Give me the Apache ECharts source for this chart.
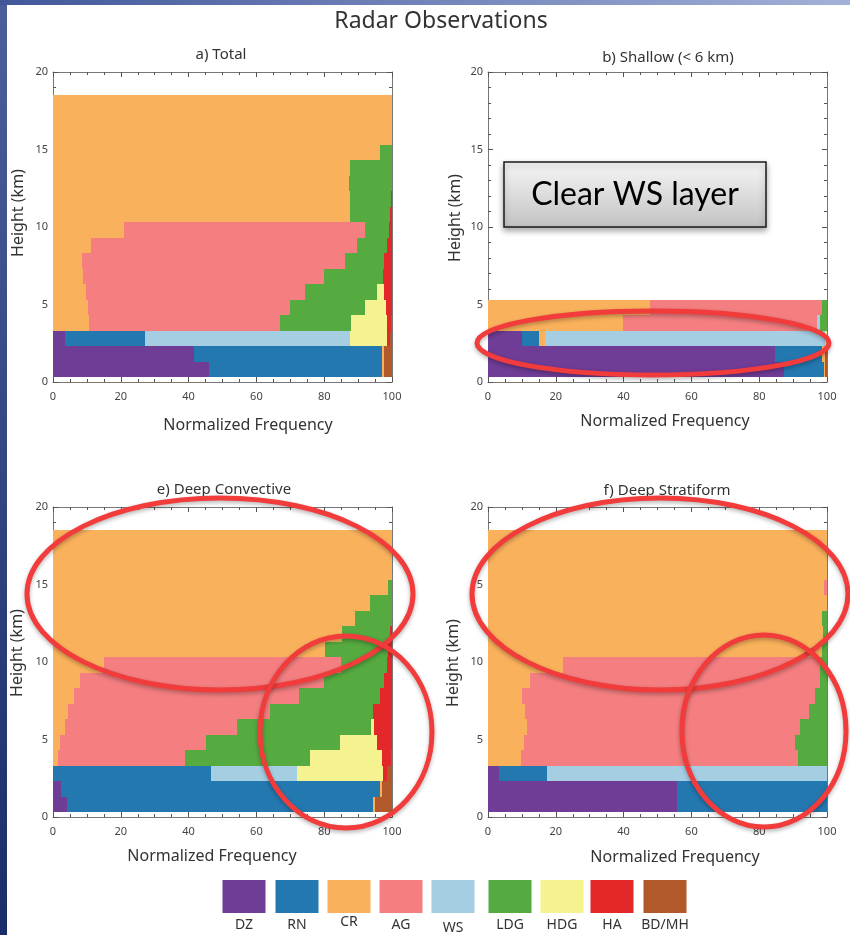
<!DOCTYPE html>
<html>
<head>
<meta charset="utf-8">
<script src="https://cdn.jsdelivr.net/npm/echarts@6/dist/echarts.min.js"></script>
<style>
  html, body { margin: 0; padding: 0; background: #fff; }
  #chart { width: 850px; height: 935px; }
</style>
</head>
<body>
<div id="chart"></div>
<script>
// hydrometeor classes, stacked left to right in this order
const classes = ['DZ', 'RN', 'CR', 'AG', 'WS', 'LDG', 'HDG', 'HA', 'BD/MH'];
const classColors = ['#6f3c96', '#2478b0', '#fab15c', '#f47e80', '#a6cee3', '#55aa40', '#f5f290', '#e3282a', '#b1592a'];

// height bin edges (km)
const heightEdges = [0.3, 1.3, 2.3, 3.3, 4.3, 5.3, 6.3, 7.3, 8.3, 9.3, 10.3, 11.3, 12.3, 13.3, 14.3, 15.3, 16.3, 17.3, 18.5];

const xTicks = [0, 20, 40, 60, 80, 100];
const yTicks = [0, 5, 10, 15, 20];

// normalized frequency per height bin, one value per class (DZ..BD/MH)
const totalRows = [
  [46, 51, 0.7, 0, 0, 0, 0, 0, 2.3],
  [41.5, 55.5, 0.7, 0, 0, 0, 0, 0, 2.3],
  [3.4, 23.7, 0, 0, 60.4, 0, 11, 0.8, 0.7],
  [0, 0, 10.5, 56.5, 0, 21, 10.5, 1.2, 0.3],
  [0, 0, 10.3, 59.5, 0, 22.3, 6, 1.9, 0],
  [0, 0, 9.7, 64.7, 0, 21.2, 2, 2.4, 0],
  [0, 0, 8.9, 70.9, 0, 17.5, 0, 2.7, 0],
  [0, 0, 8.6, 77.4, 0, 11.5, 0, 2.5, 0],
  [0, 0, 11.3, 78.4, 0, 8.8, 0, 1.5, 0],
  [0, 0, 20.9, 71, 0, 7.1, 0, 1, 0],
  [0, 0, 87.5, 0, 0, 11.8, 0, 0.7, 0],
  [0, 0, 87.7, 0, 0, 12, 0, 0.3, 0],
  [0, 0, 87.2, 0, 0, 12.8, 0, 0, 0],
  [0, 0, 87.7, 0, 0, 12.3, 0, 0, 0],
  [0, 0, 96.6, 0, 0, 3.4, 0, 0, 0],
  [0, 0, 100, 0, 0, 0, 0, 0, 0],
  [0, 0, 100, 0, 0, 0, 0, 0, 0],
  [0, 0, 100, 0, 0, 0, 0, 0, 0]
];

const shallowRows = [
  [87.4, 11.6, 0.4, 0, 0, 0, 0, 0, 0.6],
  [84.7, 13.8, 0.8, 0, 0, 0, 0, 0, 0.7],
  [10, 5.1, 1.6, 0, 82.8, 0, 0.5, 0, 0],
  [0, 0, 39.7, 57.3, 1, 2, 0, 0, 0],
  [0, 0, 47.8, 50.7, 0, 1.5, 0, 0, 0]
];

const convectiveRows = [
  [4.2, 90.2, 0.6, 0, 0, 0, 0, 0, 5],
  [2.5, 94, 0.5, 0, 0, 0, 0, 0, 3],
  [0, 46.5, 0, 0, 25.4, 0, 25.5, 1, 1.6],
  [0, 0, 1.5, 37.4, 0, 37, 21.1, 2.6, 0.4],
  [0, 0, 2, 43.1, 0, 39.6, 10.8, 4.5, 0],
  [0, 0, 3.4, 51, 0, 39.4, 1, 5.2, 0],
  [0, 0, 4.4, 59.6, 0, 30.4, 0, 5.6, 0],
  [0, 0, 6.1, 66.6, 0, 23.7, 0, 3.6, 0],
  [0, 0, 7.9, 71.9, 0, 17.7, 0, 2.5, 0],
  [0, 0, 15, 69.9, 0, 13.6, 0, 1.5, 0],
  [0, 0, 80.3, 0, 0, 18.4, 0, 1.3, 0],
  [0, 0, 85.2, 0, 0, 14.1, 0, 0.7, 0],
  [0, 0, 89.2, 0, 0, 10.8, 0, 0, 0],
  [0, 0, 93.6, 0, 0, 6.4, 0, 0, 0],
  [0, 0, 98.7, 0, 0, 1.3, 0, 0, 0],
  [0, 0, 100, 0, 0, 0, 0, 0, 0],
  [0, 0, 100, 0, 0, 0, 0, 0, 0],
  [0, 0, 100, 0, 0, 0, 0, 0, 0]
];

const stratiformRows = [
  [55.7, 44.3, 0, 0, 0, 0, 0, 0, 0],
  [55.7, 44.3, 0, 0, 0, 0, 0, 0, 0],
  [3.3, 14.1, 0, 0, 82.6, 0, 0, 0, 0],
  [0, 0, 9.6, 81.9, 0, 8.5, 0, 0, 0],
  [0, 0, 10.5, 80.1, 0, 9.4, 0, 0, 0],
  [0, 0, 11.5, 80.6, 0, 7.9, 0, 0, 0],
  [0, 0, 10.8, 84, 0, 5.2, 0, 0, 0],
  [0, 0, 9.9, 86.6, 0, 3.5, 0, 0, 0],
  [0, 0, 12.3, 85.5, 0, 2.2, 0, 0, 0],
  [0, 0, 22, 76, 0, 2, 0, 0, 0],
  [0, 0, 98.5, 0, 0, 1.5, 0, 0, 0],
  [0, 0, 98.8, 0, 0, 1.2, 0, 0, 0],
  [0, 0, 98.5, 0, 0, 1.5, 0, 0, 0],
  [0, 0, 100, 0, 0, 0, 0, 0, 0],
  [0, 0, 99.2, 0.8, 0, 0, 0, 0, 0],
  [0, 0, 100, 0, 0, 0, 0, 0, 0],
  [0, 0, 100, 0, 0, 0, 0, 0, 0],
  [0, 0, 100, 0, 0, 0, 0, 0, 0]
];

const panels = [
  { title: 'a) Total', rows: totalRows, left: 53, top: 72, titleX: 221, titleY: 55, xName: [248, 425], yName: [18, 213] },
  { title: 'b) Shallow (< 6 km)', rows: shallowRows, left: 488, top: 72, titleX: 668, titleY: 58, xName: [665, 421], yName: [455, 218] },
  { title: 'e) Deep Convective', rows: convectiveRows, left: 53, top: 507, titleX: 224, titleY: 490, xName: [212, 856], yName: [17, 653] },
  { title: 'f) Deep Stratiform', rows: stratiformRows, left: 488, top: 507, titleX: 667, titleY: 491, xName: [675, 857], yName: [453, 663] }
];

const FONT = '"Noto Sans", "Open Sans", sans-serif';
const tickColor = '#555';

// snap each bin to whole pixels so neighbouring bins meet without seams
function renderBin(params, api) {
  const p0 = api.coord([api.value(0), api.value(3)]);
  const p1 = api.coord([api.value(1), api.value(2)]);
  const x0 = Math.round(p0[0]), x1 = Math.round(p1[0]);
  const y0 = Math.round(p0[1]), y1 = Math.round(p1[1]);
  return {
    type: 'rect',
    shape: { x: x0, y: y0, width: Math.max(x1 - x0, 1), height: y1 - y0 },
    style: { fill: api.visual('color') }
  };
}

const grid = [], xAxis = [], yAxis = [], series = [], graphic = [];

// slide background
graphic.push({ type: 'rect', z: -100, shape: { x: 0, y: 0, width: 850, height: 935 },
  style: { fill: { type: 'linear', x: 0, y: 0, x2: 0, y2: 1, colorStops: [{ offset: 0, color: '#4a5f9c' }, { offset: 1, color: '#1a2d6a' }] } } });
graphic.push({ type: 'rect', z: -99, shape: { x: 0, y: 0, width: 850, height: 5 },
  style: { fill: { type: 'linear', x: 0, y: 0, x2: 1, y2: 0, colorStops: [{ offset: 0, color: '#42579a' }, { offset: 1, color: '#a2b1d8' }] } } });
graphic.push({ type: 'rect', z: -98, shape: { x: 7, y: 5, width: 843, height: 930 }, style: { fill: '#ffffff' } });

graphic.push({ type: 'text', x: 441, y: 21, z: 50,
  style: { text: 'Radar Observations', font: '23px ' + FONT, fill: '#333', align: 'center', verticalAlign: 'middle', textAlign: 'center', textVerticalAlign: 'middle' } });

panels.forEach((p, pi) => {
  grid.push({ left: p.left, top: p.top, width: 339, height: 310, show: false });
  const xBase = {
    gridIndex: pi, type: 'value', min: 0, max: 100, interval: 20,
    axisLine: { show: true, onZero: false, lineStyle: { color: '#777', width: 1 } },
    axisTick: { show: true, inside: true, length: 5, lineStyle: { color: tickColor } },
    minorTick: { show: true, splitNumber: 4, length: 3, lineStyle: { color: tickColor } },
    splitLine: { show: false }
  };
  xAxis.push(Object.assign({}, xBase, { position: 'bottom',
    axisLabel: { fontSize: 11, color: '#444', margin: 9, fontFamily: FONT } }));
  xAxis.push(Object.assign({}, xBase, { position: 'top', axisLabel: { show: false } }));
  const yBase = {
    gridIndex: pi, type: 'value', min: 0, max: 20, interval: 5,
    axisLine: { show: true, onZero: false, lineStyle: { color: '#777', width: 1 } },
    axisTick: { show: true, inside: true, length: 5, lineStyle: { color: tickColor } },
    minorTick: { show: true, splitNumber: 5, length: 3, lineStyle: { color: tickColor } },
    splitLine: { show: false }
  };
  yAxis.push(Object.assign({}, yBase, { position: 'left',
    axisLabel: { fontSize: 11, color: '#444', margin: 5, fontFamily: FONT } }));
  yAxis.push(Object.assign({}, yBase, { position: 'right', axisLabel: { show: false } }));

  classes.forEach((cls, ci) => {
    const data = [];
    p.rows.forEach((row, ri) => {
      if (row[ci] <= 0) return;
      let start = 0;
      for (let k = 0; k < ci; k++) start += row[k];
      data.push([start, start + row[ci], heightEdges[ri], heightEdges[ri + 1]]);
    });
    series.push({
      type: 'custom', name: cls, xAxisIndex: pi * 2, yAxisIndex: pi * 2,
      renderItem: renderBin, encode: { x: [0, 1], y: [2, 3] },
      itemStyle: { color: classColors[ci] }, data: data, clip: true, silent: true
    });
  });

  graphic.push({ type: 'text', x: p.titleX, y: p.titleY, z: 50,
    style: { text: p.title, font: '15px ' + FONT, fill: '#333', align: 'center', verticalAlign: 'middle', textAlign: 'center', textVerticalAlign: 'middle' } });
  graphic.push({ type: 'text', x: p.xName[0], y: p.xName[1], z: 50,
    style: { text: 'Normalized Frequency', font: '16px ' + FONT, fill: '#333', align: 'center', verticalAlign: 'middle', textAlign: 'center', textVerticalAlign: 'middle' } });
  graphic.push({ type: 'text', x: p.yName[0], y: p.yName[1], rotation: Math.PI / 2, z: 50,
    style: { text: 'Height (km)', font: '16px ' + FONT, fill: '#333', align: 'center', verticalAlign: 'middle', textAlign: 'center', textVerticalAlign: 'middle' } });
});

// legend swatches below the panels
const legendX = [244, 297, 349, 401, 453, 510, 562, 612, 665];
const legendLabelDy = [0, 0, -3, 0, 3, 0, 0, 0, 0];
classes.forEach((cls, ci) => {
  graphic.push({ type: 'rect', z: 50, shape: { x: legendX[ci] - 21.5, y: 880, width: 43, height: 33 },
    style: { fill: classColors[ci] } });
  graphic.push({ type: 'text', x: legendX[ci], y: 925 + legendLabelDy[ci], z: 50,
    style: { text: cls, font: '14px ' + FONT, fill: '#333', align: 'center', verticalAlign: 'middle', textAlign: 'center', textVerticalAlign: 'middle' } });
});

// annotation: text box and red ellipses
graphic.push({ type: 'rect', z: 90, shape: { x: 504, y: 162, width: 262, height: 65 },
  style: {
    fill: { type: 'linear', x: 0, y: 0, x2: 0, y2: 1, colorStops: [{ offset: 0, color: '#f7f7f7' }, { offset: 1, color: '#c2c2c2' }] },
    stroke: '#1a1a1a', lineWidth: 1.5, shadowBlur: 6, shadowOffsetY: 3, shadowColor: 'rgba(0,0,0,0.35)'
  } });
graphic.push({ type: 'text', x: 635, y: 195, z: 91,
  style: { text: 'Clear WS layer', font: '32px Lato, "Open Sans", sans-serif', fill: '#000', align: 'center', verticalAlign: 'middle', textAlign: 'center', textVerticalAlign: 'middle' } });

const ellipses = [
  [653, 343, 176, 32],
  [220, 594, 193, 96],
  [346, 732, 86, 96],
  [660, 594, 188, 96],
  [764, 731, 82, 96]
];
ellipses.forEach(e => {
  graphic.push({ type: 'ellipse', z: 95, shape: { cx: e[0], cy: e[1], rx: e[2], ry: e[3] },
    style: { fill: 'transparent', stroke: '#f23b3b', lineWidth: 5, shadowBlur: 4, shadowOffsetY: 2, shadowColor: 'rgba(0,0,0,0.3)' } });
});

const chart = echarts.init(document.getElementById('chart'), null, { renderer: 'canvas' });
chart.setOption({
  animation: false,
  backgroundColor: '#ffffff',
  grid: grid,
  xAxis: xAxis,
  yAxis: yAxis,
  series: series,
  graphic: { elements: graphic }
});
</script>
</body>
</html>
